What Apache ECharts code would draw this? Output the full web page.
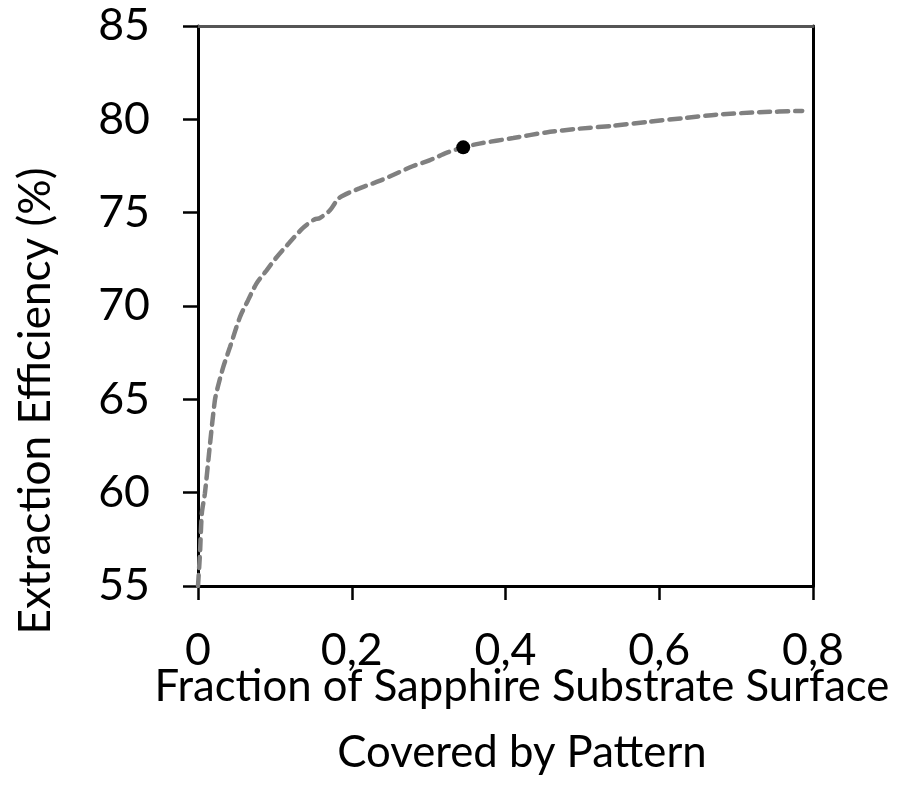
<!DOCTYPE html>
<html>
<head>
<meta charset="utf-8">
<script src="https://cdn.jsdelivr.net/npm/echarts@6/dist/echarts.min.js"></script>
<style>
html,body{margin:0;padding:0;background:#fff;}
#chart{width:900px;height:791px;}
</style>
</head>
<body>
<div id="chart"></div>
<script>
// ---- data ----
var fractionCovered = [0, 0.0026, 0.005, 0.009, 0.0156, 0.022, 0.026, 0.033, 0.0416, 0.0545, 0.065, 0.076, 0.089, 0.102, 0.119, 0.137, 0.152, 0.158, 0.171, 0.184, 0.21, 0.236, 0.258, 0.28, 0.301, 0.323, 0.345, 0.366, 0.41, 0.453, 0.496, 0.539, 0.587, 0.635, 0.674, 0.73, 0.786];
var extractionEff = [55, 56.75, 58.9, 59.97, 62.6, 64.96, 65.7, 66.75, 67.8, 69.4, 70.3, 71.2, 71.9, 72.6, 73.4, 74.2, 74.65, 74.7, 75.1, 75.8, 76.3, 76.7, 77.1, 77.5, 77.8, 78.2, 78.5, 78.7, 79.0, 79.3, 79.5, 79.65, 79.87, 80.08, 80.25, 80.38, 80.45];
var markedPointX = [0.345];
var markedPointY = [78.5];
var xTickLabels = ['0', '0,2', '0,4', '0,6', '0,8'];
var yTickLabels = ['55', '60', '65', '70', '75', '80', '85'];
var xTitleLines = ['Fraction of Sapphire Substrate Surface', 'Covered by Pattern'];
var yTitle = 'Extraction Efficiency (%)';

// ---- font fitting ----
var FONT = 'Lato';
var cv = document.createElement('canvas').getContext('2d');
function fit(text, targetW, base) {
  cv.font = base + 'px ' + FONT;
  var w = cv.measureText(text).width;
  return base * targetW / w;
}
var titleSize = fit(xTitleLines[0], 735, 36);
var yTitleSize = fit(yTitle, 467, 36);
var tickSize = fit('0,2', 62, 36);

var lineData = fractionCovered.map(function (x, i) { return [x, extractionEff[i]]; });
var pointData = markedPointX.map(function (x, i) { return [x, markedPointY[i]]; });

var chart = echarts.init(document.getElementById('chart'), null, { renderer: 'canvas' });
chart.setOption({
  animation: false,
  backgroundColor: '#fff',
  grid: { left: 198, right: 87, top: 26, bottom: 205, containLabel: false },
  xAxis: [{
    type: 'value', min: 0, max: 0.8, interval: 0.2,
    axisLine: { show: true, onZero: false, lineStyle: { color: '#000', width: 3 } },
    axisTick: { show: true, inside: false, length: 14, lineStyle: { color: '#000', width: 2.5 } },
    splitLine: { show: false },
    axisLabel: {
      margin: 42, color: '#000', fontFamily: FONT, fontSize: tickSize,
      formatter: function (v) { var i = Math.round(v / 0.2); return xTickLabels[i] !== undefined ? xTickLabels[i] : ''; }
    }
  }, {
    type: 'value', position: 'top', min: 0, max: 0.8,
    axisLine: { show: true, onZero: false, lineStyle: { color: '#555', width: 3 } },
    axisTick: { show: false }, axisLabel: { show: false }, splitLine: { show: false }
  }],
  yAxis: [{
    type: 'value', min: 55, max: 85, interval: 5,
    axisLine: { show: true, onZero: false, lineStyle: { color: '#000', width: 3 } },
    axisTick: { show: true, inside: false, length: 15, lineStyle: { color: '#000', width: 2.5 } },
    splitLine: { show: false },
    axisLabel: {
      margin: 48, color: '#000', fontFamily: FONT, fontSize: tickSize,
      formatter: function (v) { var i = Math.round((v - 55) / 5); return yTickLabels[i] !== undefined ? yTickLabels[i] : ''; }
    }
  }, {
    type: 'value', position: 'right', min: 55, max: 85,
    axisLine: { show: true, onZero: false, lineStyle: { color: '#000', width: 3 } },
    axisTick: { show: false }, axisLabel: { show: false }, splitLine: { show: false }
  }],
  series: [{
    type: 'line', data: lineData, showSymbol: false, symbol: 'none', smooth: 0.25,
    lineStyle: { color: '#808080', width: 4.5, type: [11, 7], cap: 'round' },
    z: 2
  }, {
    type: 'scatter', data: pointData, symbol: 'circle', symbolSize: 14,
    itemStyle: { color: '#000', opacity: 1 }, z: 3
  }],
  graphic: [{
    type: 'text', x: 522, y: 687,
    style: { text: xTitleLines[0], font: titleSize + 'px ' + FONT, fill: '#000', textAlign: 'center', textVerticalAlign: 'middle' }
  }, {
    type: 'text', x: 522, y: 753,
    style: { text: xTitleLines[1], font: titleSize + 'px ' + FONT, fill: '#000', textAlign: 'center', textVerticalAlign: 'middle' }
  }, {
    type: 'text', x: 36, y: 401, rotation: Math.PI / 2,
    style: { text: yTitle, font: yTitleSize + 'px ' + FONT, fill: '#000', textAlign: 'center', textVerticalAlign: 'middle' }
  }]
});
</script>
</body>
</html>
